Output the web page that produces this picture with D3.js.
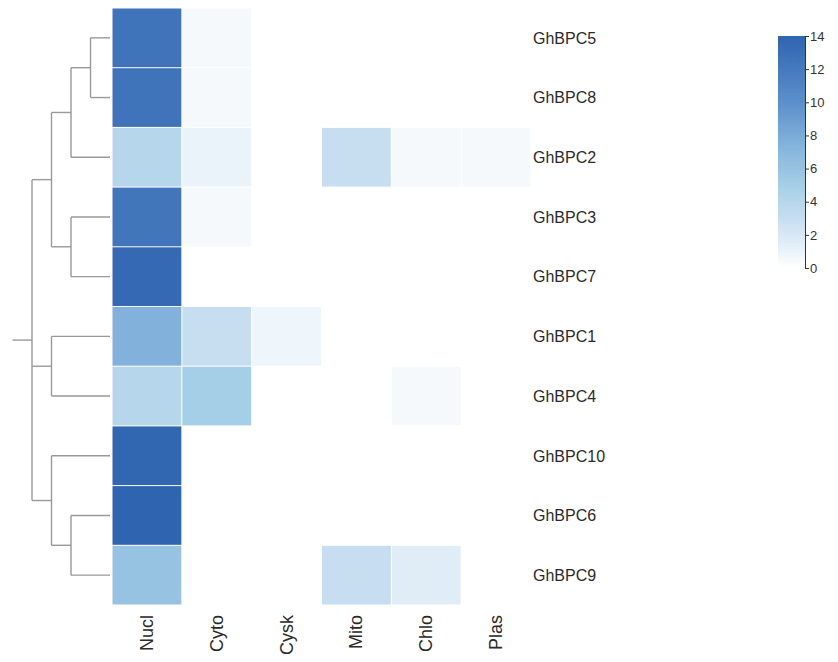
<!DOCTYPE html>
<html>
<head>
<meta charset="utf-8">
<script src="https://cdn.jsdelivr.net/npm/d3@7"></script>
<style>
body{margin:0;background:#fff;}
svg{display:block;font-family:"Liberation Sans",Arial,sans-serif;}
</style>
</head>
<body>
<svg id="chart" width="838" height="662"></svg>
<script>
const genes = ["GhBPC5","GhBPC8","GhBPC2","GhBPC3","GhBPC7","GhBPC1","GhBPC4","GhBPC10","GhBPC6","GhBPC9"];
const locations = ["Nucl","Cyto","Cysk","Mito","Chlo","Plas"];
// rows follow genes order, columns follow locations order
const nucl = [12.5, 12.5, 4.0, 12.3, 13.5, 7.5, 4.0, 13.8, 14.0, 6.0];
const cyto = [0.5, 0.5, 1.0, 0.5, 0, 3.0, 5.0, 0, 0, 0];
const cysk = [0, 0, 0, 0, 0, 0.8, 0, 0, 0, 0];
const mito = [0, 0, 3.0, 0, 0, 0, 0, 0, 0, 3.0];
const chlo = [0, 0, 0.5, 0, 0, 0, 0.5, 0, 0, 1.5];
const plas = [0, 0, 0.5, 0, 0, 0, 0, 0, 0, 0];
const legendTicks = [0, 2, 4, 6, 8, 10, 12, 14];
// dendrogram (merge heights in arbitrary distance units)
const tree = {h:4, children:[
  {h:3, children:[
    {h:2, children:[{h:1, children:[{leaf:"GhBPC5"},{leaf:"GhBPC8"}]},{leaf:"GhBPC2"}]},
    {h:2, children:[{leaf:"GhBPC3"},{leaf:"GhBPC7"}]}
  ]},
  {h:3, children:[{leaf:"GhBPC1"},{leaf:"GhBPC4"}]},
  {h:3, children:[{leaf:"GhBPC10"},{h:2, children:[{leaf:"GhBPC6"},{leaf:"GhBPC9"}]}]}
]};

const columns = [nucl, cyto, cysk, mito, chlo, plas];
const cells = [];
genes.forEach((g,i)=>locations.forEach((l,j)=>cells.push({gene:g, loc:l, v:columns[j][i]})));

const svg = d3.select("#chart");
const x = d3.scaleBand().domain(locations).range([112, 531]).padding(0);
const y = d3.scaleBand().domain(genes).range([8, 605]).padding(0);
const color = d3.scaleLinear()
  .domain([0, 1.5, 3, 5, 7.5, 10, 14])
  .range(["#ffffff","#e0edf7","#c6def0","#a5cfe6","#82b2dc","#5b8fcb","#2f64b0"])
  .clamp(true);

svg.append("g").selectAll("rect").data(cells).join("rect")
  .attr("x", d=>x(d.loc)+0.5).attr("y", d=>y(d.gene)+0.5)
  .attr("width", x.bandwidth()-1).attr("height", y.bandwidth()-1)
  .attr("fill", d=>color(d.v));

// row labels
svg.append("g").selectAll("text").data(genes).join("text")
  .attr("x", 533).attr("y", d=>y(d)+y.bandwidth()/2)
  .attr("dy","0.36em").attr("font-size", 16).attr("fill","#2a2a2a")
  .text(d=>d);

// column labels
svg.append("g").selectAll("text").data(locations).join("text")
  .attr("transform", d=>`translate(${x(d)+x.bandwidth()/2+6},615) rotate(-90)`)
  .attr("text-anchor","end").attr("font-size", 18).attr("fill","#2a2a2a")
  .text(d=>d);

// dendrogram
const hx = d3.scaleLinear().domain([0, 4]).range([110, 32]);
const dg = svg.append("g").attr("fill","none").attr("stroke","#999").attr("stroke-width",1.4);
function layout(n){
  if(n.leaf){ n.y = y(n.leaf)+y.bandwidth()/2; n.x = hx(0); return n; }
  n.children.forEach(layout);
  n.x = hx(n.h);
  const ys = n.children.map(c=>c.y);
  n.y = (d3.min(ys)+d3.max(ys))/2;
  return n;
}
layout(tree);
function draw(n){
  if(n.leaf) return;
  const ys = n.children.map(c=>c.y);
  dg.append("line").attr("x1",n.x).attr("x2",n.x).attr("y1",d3.min(ys)).attr("y2",d3.max(ys));
  n.children.forEach(c=>{
    dg.append("line").attr("x1",n.x).attr("x2",c.x).attr("y1",c.y).attr("y2",c.y);
    draw(c);
  });
}
draw(tree);
dg.append("line").attr("x1",hx(5)).attr("x2",tree.x).attr("y1",tree.y).attr("y2",tree.y);

// legend
const lx = 778, lw = 27, ly0 = 268, ly1 = 36;
const ls = d3.scaleLinear().domain([0,14]).range([ly0, ly1]);
const defs = svg.append("defs");
const grad = defs.append("linearGradient").attr("id","lg").attr("x1","0").attr("y1","1").attr("x2","0").attr("y2","0");
d3.range(0, 14.01, 0.5).forEach(v=>grad.append("stop").attr("offset", v/14).attr("stop-color", color(v)));
svg.append("rect").attr("x",lx).attr("y",ly1).attr("width",lw).attr("height",ly0-ly1).attr("fill","url(#lg)");
const la = svg.append("g").attr("transform",`translate(${lx+lw},0)`)
  .call(d3.axisRight(ls).tickValues(legendTicks).tickSize(4).tickPadding(1));
la.select(".domain").attr("stroke","#333");
la.selectAll(".tick line").attr("stroke","#333");
la.selectAll("text").attr("font-size",13).attr("fill","#333").attr("font-family","Liberation Sans, Arial, sans-serif");
</script>
</body>
</html>
